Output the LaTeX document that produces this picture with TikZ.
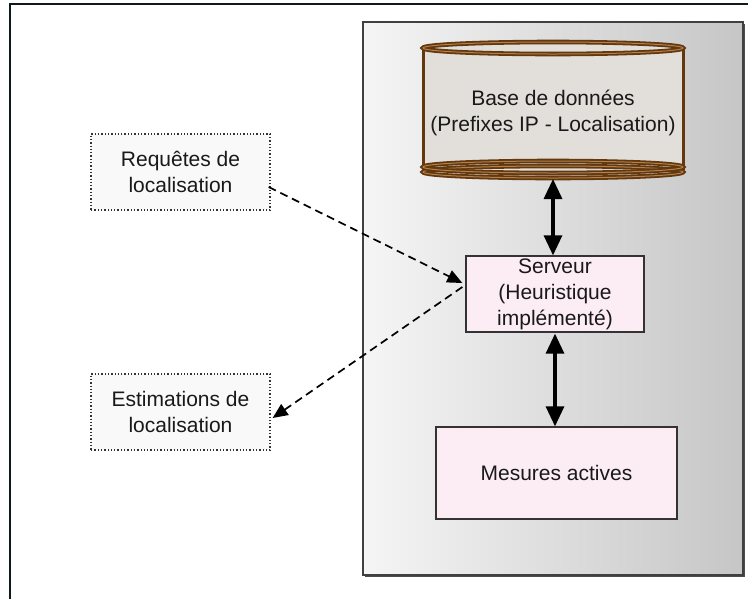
\documentclass[tikz,border=0pt]{standalone}
\usepackage{fontspec}
\setmainfont{Liberation Sans}
\usetikzlibrary{arrows.meta,calc}
\definecolor{pinkfill}{RGB}{252,237,245}
\definecolor{dotfill}{RGB}{249,249,249}
\definecolor{panelL}{RGB}{245,245,245}
\definecolor{panelR}{RGB}{198,198,198}
\definecolor{dbfill}{RGB}{226,222,218}
\definecolor{dbbrown}{RGB}{100,55,12}
\definecolor{dbring}{RGB}{175,130,80}
\definecolor{framecol}{RGB}{12,26,28}
\begin{document}
\begin{tikzpicture}[x=1pt,y=-1pt,
  txt/.style={font=\fontsize{21}{26}\selectfont, align=center, text=black!90},
  pinkbox/.style={txt, draw=black!80, line width=1.3pt, fill=pinkfill, inner sep=0pt},
  dotbox/.style={txt, draw=black!80, dotted, line width=1.3pt, fill=dotfill, inner sep=0pt, minimum width=179pt, minimum height=76pt},
  bigarrow/.style={line width=3.2pt, {Triangle[length=20pt,width=18pt]}-{Triangle[length=20pt,width=18pt]}},
  dasharrow/.style={line width=1.7pt, dash pattern=on 8pt off 5pt, -{Triangle[length=15pt,width=13pt]}}
]
\useasboundingbox (0,0) rectangle (748,598);
\clip (0,0) rectangle (748,598);
% outer frame
\draw[line width=1.6pt, framecol] (10,4) rectangle (770,620);
% gray panel with shadow
\fill[black!70] (365,24) rectangle (745,577);
\shade[left color=panelL, right color=panelR, draw=black!75, line width=1.3pt] (363,22) rectangle (743,575);
% database cylinder
\fill[dbfill] (423,48) -- (423,170) arc[start angle=180, end angle=360, x radius=130, y radius=6] -- (683,48) -- cycle;
\draw[dbbrown, line width=3pt] (423,48) -- (423,170) (683,48) -- (683,170);
\draw[dbbrown, line width=1.8pt, double=dbring, double distance=1pt] (553,172) ellipse[x radius=130, y radius=6];
\draw[dbbrown, line width=1.8pt, double=dbring, double distance=1pt] (553,167) ellipse[x radius=130, y radius=6];
\draw[dbbrown, line width=1.8pt, double=dbring, double distance=1pt, fill=dbfill] (553,48) ellipse[x radius=130, y radius=6];
\node[txt] (db) at (553,113) {Base de données\\(Prefixes IP - Localisation)};
\coordinate (dbb) at (553,179);
% boxes
\node[pinkbox, minimum width=178pt, minimum height=76pt] (srv) at (555,294) {Serveur\\(Heuristique\\implémenté)};
\node[pinkbox, minimum width=241pt, minimum height=92pt] (mes) at (556.5,473) {Mesures actives};
\node[dotbox] (req) at (180.5,172) {Requêtes de\\localisation};
\node[dotbox] (est) at (180.5,412) {Estimations de\\localisation};
% connectors
\draw[bigarrow] (dbb) -- (dbb |- srv.north);
\draw[bigarrow] (srv.south -| 555,0) ++(0,1) -- (mes.north -| 555,0);
\draw[dasharrow] ($(req.east)+(-2,15)$) -- ($(srv.west)+(-3,-11)$);
\draw[dasharrow] ($(srv.west)+(-3,-7)$) -- ($(est.east)+(2,6)$);
\end{tikzpicture}
\end{document}
